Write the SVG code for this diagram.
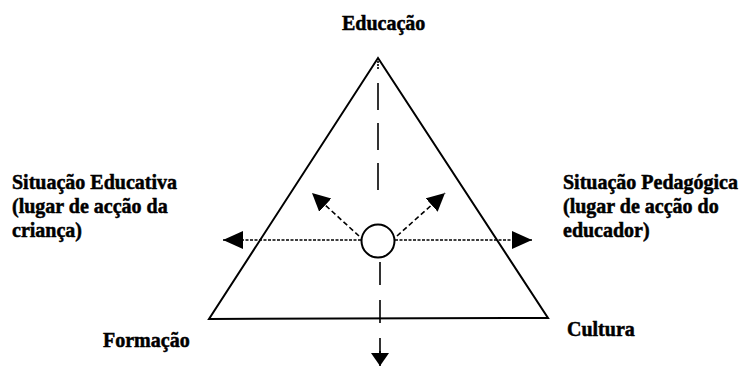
<svg xmlns="http://www.w3.org/2000/svg" width="754" height="366" viewBox="0 0 754 366">
<style>
  .edge { fill: none; stroke: #000; stroke-width: 2; }
  .dash { fill: none; stroke: #000; stroke-width: 1.6; }
</style>
<defs>
  <marker id="ah" markerUnits="userSpaceOnUse" markerWidth="22" markerHeight="20" refX="20" refY="9" orient="auto">
    <path d="M0,0 L20,9 L0,18 Z" fill="#000"/>
  </marker>
  <marker id="ahs" markerUnits="userSpaceOnUse" markerWidth="20" markerHeight="20" refX="18" refY="9" orient="auto">
    <path d="M0,0 L18,9 L0,18 Z" fill="#000"/>
  </marker>
  <marker id="ahb" markerUnits="userSpaceOnUse" markerWidth="16" markerHeight="20" refX="13" refY="9" orient="auto">
    <path d="M0,0 L13,9 L0,18 Z" fill="#000"/>
  </marker>
</defs>
<rect width="754" height="366" fill="#fff"/>

<g id="triangle">
  <path class="edge" d="M378,58 L548,318 L209,319 Z" stroke-linejoin="miter"/>
</g>

<g id="center">
  <circle cx="378" cy="241" r="16.5" fill="#fff" stroke="#000" stroke-width="2"/>
</g>

<g id="connectors">
  <line class="dash" x1="378" y1="61" x2="378" y2="70" stroke-dasharray="2 1"/>
  <line class="dash" x1="378" y1="83" x2="378" y2="192" stroke-dasharray="27 13"/>
  <line class="dash" x1="380" y1="262" x2="380" y2="353" stroke-dasharray="23 15"/>
  <line class="dash" x1="380" y1="351" x2="380" y2="366" marker-end="url(#ahb)"/>
  <line class="dash" x1="361" y1="240" x2="223" y2="240" stroke-dasharray="3 1.5" marker-end="url(#ah)"/>
  <line class="dash" x1="395" y1="240" x2="532" y2="240" stroke-dasharray="3 1.5" marker-end="url(#ah)"/>
  <line class="dash" x1="359" y1="236" x2="312" y2="193" stroke-dasharray="5 3" marker-end="url(#ahs)"/>
  <line class="dash" x1="397" y1="236" x2="445" y2="193" stroke-dasharray="5 3" marker-end="url(#ahs)"/>
</g>

<g font-family="Liberation Serif, DejaVu Serif, serif" font-weight="bold" font-size="20" fill="#000" stroke="#000" stroke-width="0.5">
<g id="educacao">
  <text x="342" y="30">Educação</text>
</g>
<g id="formacao">
  <text x="103" y="347">Formação</text>
</g>
<g id="cultura">
  <text x="567" y="336">Cultura</text>
</g>
<g id="situacao-educativa">
  <text x="12" y="189">Situação Educativa</text>
  <text x="12" y="213">(lugar de acção da</text>
  <text x="12" y="237">criança)</text>
</g>
<g id="situacao-pedagogica">
  <text x="563" y="189">Situação Pedagógica</text>
  <text x="563" y="213">(lugar de acção do</text>
  <text x="563" y="237">educador)</text>
</g>
</g>
</svg>
